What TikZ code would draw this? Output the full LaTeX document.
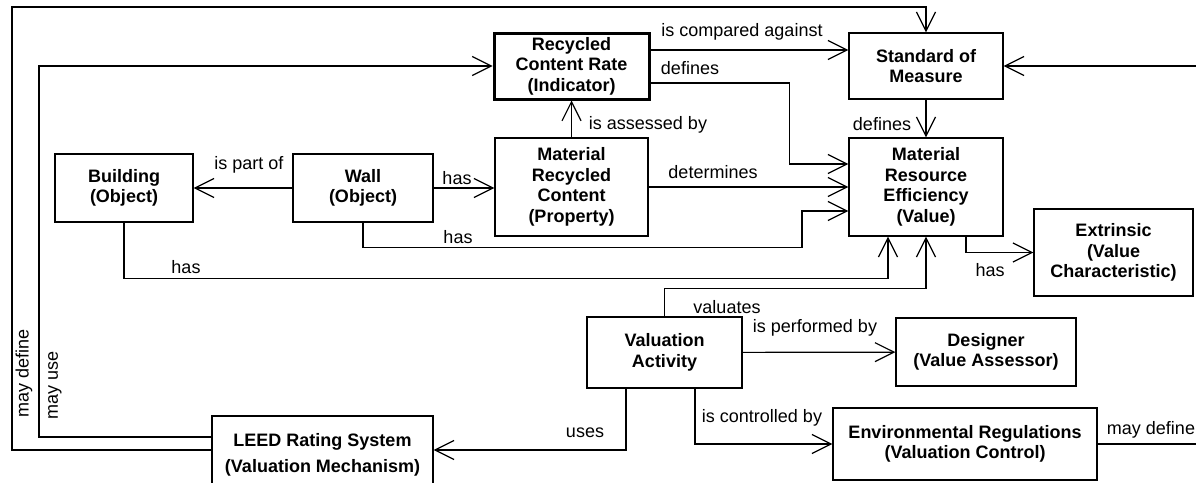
\documentclass[tikz,border=0pt]{standalone}
\usepackage{fontspec}
\setmainfont{Liberation Sans}
\usetikzlibrary{arrows.meta}
\begin{document}
\begin{tikzpicture}[x=1pt,y=-1pt,font=\fontsize{18}{20.5}\selectfont,
  cls/.style={draw,line width=1.4pt,align=center,inner sep=0pt,font=\fontsize{18}{20.5}\selectfont\bfseries},
  lbl/.style={inner sep=0pt},
  assoc/.style={line width=1.2pt,-{Straight Barb[length=19pt,width=19pt]}}]
\clip (0,0) rectangle (1196,482);
\node[cls,line width=3pt,minimum width=155pt,minimum height=66pt] (rcr) at (571.5,66) {Recycled\\Content Rate\\(Indicator)};
\node[cls,minimum width=154pt,minimum height=66pt] (som) at (926,66) {Standard of\\Measure};
\node[cls,minimum width=153pt,minimum height=98pt] (mrc) at (571.5,187) {Material\\Recycled\\Content\\(Property)};
\node[cls,minimum width=154pt,minimum height=98pt] (mre) at (926,187) {Material\\Resource\\Efficiency\\(Value)};
\node[cls,minimum width=138pt,minimum height=68pt] (bld) at (124,188) {Building\\(Object)};
\node[cls,minimum width=140pt,minimum height=68pt] (wall) at (363,188) {Wall\\(Object)};
\node[cls,minimum width=159pt,minimum height=87pt] (ext) at (1113.5,252.5) {Extrinsic\\(Value\\Characteristic)};
\node[cls,minimum width=155pt,minimum height=71pt] (val) at (664.5,352.5) {Valuation\\Activity};
\node[cls,minimum width=180pt,minimum height=68pt] (des) at (986,352) {Designer\\(Value Assessor)};
\node[cls,minimum width=221pt,minimum height=78pt] (leed) at (322.5,455) {LEED Rating System\\[6pt](Valuation Mechanism)};
\node[cls,minimum width=264pt,minimum height=72pt] (env) at (965,444) {Environmental Regulations\\(Valuation Control)};
\coordinate (defleft) at (12,7);
\coordinate (useleft) at (39,66);
\coordinate (somin) at (1196,66);
\coordinate (envout) at (1196,444);

\draw[assoc] ([yshift=16pt]rcr.east) -- ([yshift=16pt]som.west);
\draw[assoc] ([yshift=-17pt]rcr.east) -- ++(139,0) |- ([yshift=23pt]mre.west);
\draw[assoc] (som) -- (mre);
\draw[assoc] (somin) -- (som.east);
\draw[assoc] (mrc) -- (rcr);
\draw[assoc] (mrc) -- (mre);
\draw[assoc] (wall) -- (bld);
\draw[assoc] (wall.east) -- (wall.east -| mrc.west);
\draw[assoc] (wall.south) |- ++(439,25) |- ([yshift=-24pt]mre.west);
\draw[assoc] (bld.south) -- ++(0,56) -| ([xshift=-38pt]mre.south);
\draw[assoc] (val.north) -- ++(0,-28) -| (mre.south);
\draw[assoc] ([xshift=40pt]mre.south) |- (ext.west);
\draw[assoc] (val) -- (des);
\draw[assoc] ([xshift=30.5pt]val.south) |- (env.west);
\draw[assoc] ([xshift=-38.5pt]val.south) |- ([yshift=5pt]leed.east);
\draw[line width=1.2pt] (env.east) -- (envout);
\draw[assoc] ([yshift=5pt]leed.west) -| (defleft) -| (som.north);
\draw[assoc] ([yshift=18pt]leed.west) -| (useleft) -- (rcr.west);

\node[lbl] (l1) at (742,32) {is compared against};
\node[lbl] (l2) at (690,68) {defines};
\node[lbl] (l3) at (648,125) {is assessed by};
\node[lbl] (l4) at (882,124) {defines};
\node[lbl] (l5) at (713,172) {determines};
\node[lbl] (l6) at (249,165) {is part of};
\node[lbl] (l7) at (457,178) {has};
\node[lbl] (l8) at (458,237) {has};
\node[lbl] (l9) at (186,267) {has};
\node[lbl] (l10) at (990,270) {has};
\node[lbl] (l11) at (727,307) {valuates};
\node[lbl] (l12) at (815,328) {is performed by};
\node[lbl] (l13) at (762,418) {is controlled by};
\node[lbl] (l14) at (585,433) {uses};
\node[lbl] (l15) at (1151,430) {may define};
\node[lbl,rotate=90] (l16) at (24,373) {may define};
\node[lbl,rotate=90] (l17) at (55,385) {may use};
\end{tikzpicture}
\end{document}
